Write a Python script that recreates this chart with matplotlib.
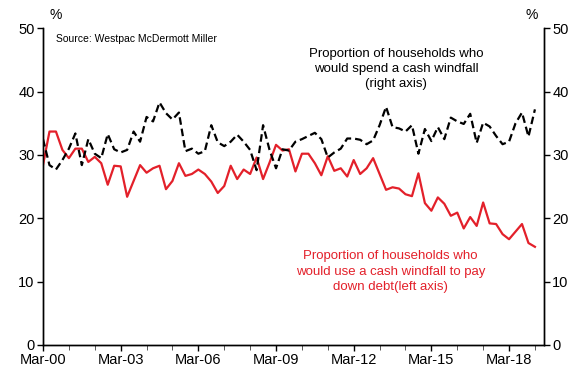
import numpy as np
import matplotlib
matplotlib.use('Agg')
import matplotlib.pyplot as plt

plt.rcParams['font.family'] = ['Liberation Sans', 'DejaVu Sans']

# Quarterly survey, Mar-00 to Mar-19
pay_debt = [28.4, 33.7, 33.7, 30.8, 29.5, 31.0, 31.0, 28.9, 29.7, 28.7,
            25.3, 28.3, 28.2, 23.4, 25.9, 28.4, 27.2, 27.9, 28.3, 24.6,
            25.9, 28.7, 26.7, 27.0, 27.7, 27.0, 25.8, 24.0, 25.1, 28.3,
            26.2, 27.7, 27.0, 29.6, 26.2, 28.8, 31.6, 30.7, 30.9, 27.4,
            30.2, 30.2, 28.7, 26.8, 29.8, 27.5, 27.9, 26.6, 29.2, 27.0,
            27.9, 29.5, 27.0, 24.5, 24.9, 24.7, 23.8, 23.5, 27.1, 22.4,
            21.2, 23.3, 22.3, 20.4, 20.9, 18.4, 20.2, 18.8, 22.5, 19.2,
            19.1, 17.5, 16.7, 17.9, 19.1, 16.1, 15.5]

spend = [32.5, 28.4, 27.7, 29.2, 31.0, 33.4, 28.4, 32.5, 30.2, 29.5,
         33.3, 30.9, 30.4, 30.8, 33.7, 32.1, 36.0, 35.3, 38.3, 36.6,
         35.6, 36.7, 30.6, 31.0, 30.2, 30.6, 34.7, 32.0, 31.4, 32.1,
         33.2, 32.1, 30.8, 27.6, 34.7, 30.8, 27.9, 30.9, 30.7, 32.1,
         32.5, 33.0, 33.5, 32.5, 29.6, 30.4, 31.0, 32.6, 32.6, 32.4,
         31.7, 32.3, 34.7, 37.6, 34.4, 34.2, 33.7, 34.7, 30.2, 34.1,
         32.2, 34.4, 32.5, 35.9, 35.3, 34.9, 36.5, 31.9, 35.1, 34.5,
         33.0, 31.7, 32.1, 35.0, 36.7, 32.9, 37.2]

year_labels = ['Mar-00', 'Mar-03', 'Mar-06', 'Mar-09', 'Mar-12', 'Mar-15', 'Mar-18']
yticks = [0, 10, 20, 30, 40, 50]

red = '#E3202A'
q = np.arange(len(pay_debt))

fig = plt.figure(figsize=(5.82, 3.70), dpi=100)
ax = fig.add_axes([43/582, 1 - 345/370, (544 - 43)/582, (345 - 28.3)/370])
ax2 = ax.twinx()

ax.plot(q, pay_debt, color=red, lw=1.6, zorder=3)
ax2.plot(q, spend, color='black', lw=1.6, dashes=(3.4, 1.8))

ax.set_xlim(0, 77.4)
ax.set_ylim(0, 50)
ax2.set_ylim(0, 50)
ax.set_yticks(yticks)
ax2.set_yticks(yticks)

ax.set_xticks(np.arange(0, 77, 12))
ax.set_xticklabels(year_labels)
ax.set_xticks(np.arange(0, 77, 4), minor=True)

for a in (ax, ax2):
    a.spines['top'].set_visible(False)
    for s in a.spines.values():
        s.set_linewidth(1.0)
    a.tick_params(axis='both', which='major', labelsize=10.5, length=4,
                  width=1.0, direction='out', pad=2)
    a.tick_params(axis='x', which='minor', length=3.5, width=0.7, color='#555555')

ax.text(0.012, 1.02, '%', transform=ax.transAxes, fontsize=10, ha='left', va='bottom')
ax2.text(0.988, 1.02, '%', transform=ax2.transAxes, fontsize=10, ha='right', va='bottom')
ax.text(0.025, 0.965, 'Source: Westpac McDermott Miller', transform=ax.transAxes,
        fontsize=7.5, ha='left', va='center')

ax.text(54.6, 43.6, 'Proportion of households who\nwould spend a cash windfall\n(right axis)',
        fontsize=9.5, ha='center', va='center', linespacing=1.35)
ax.text(53.7, 11.6, 'Proportion of households who\nwould use a cash windfall to pay\ndown debt(left axis)',
        fontsize=9.5, ha='center', va='center', color=red, linespacing=1.35)

fig.savefig('out.png', dpi=100)
